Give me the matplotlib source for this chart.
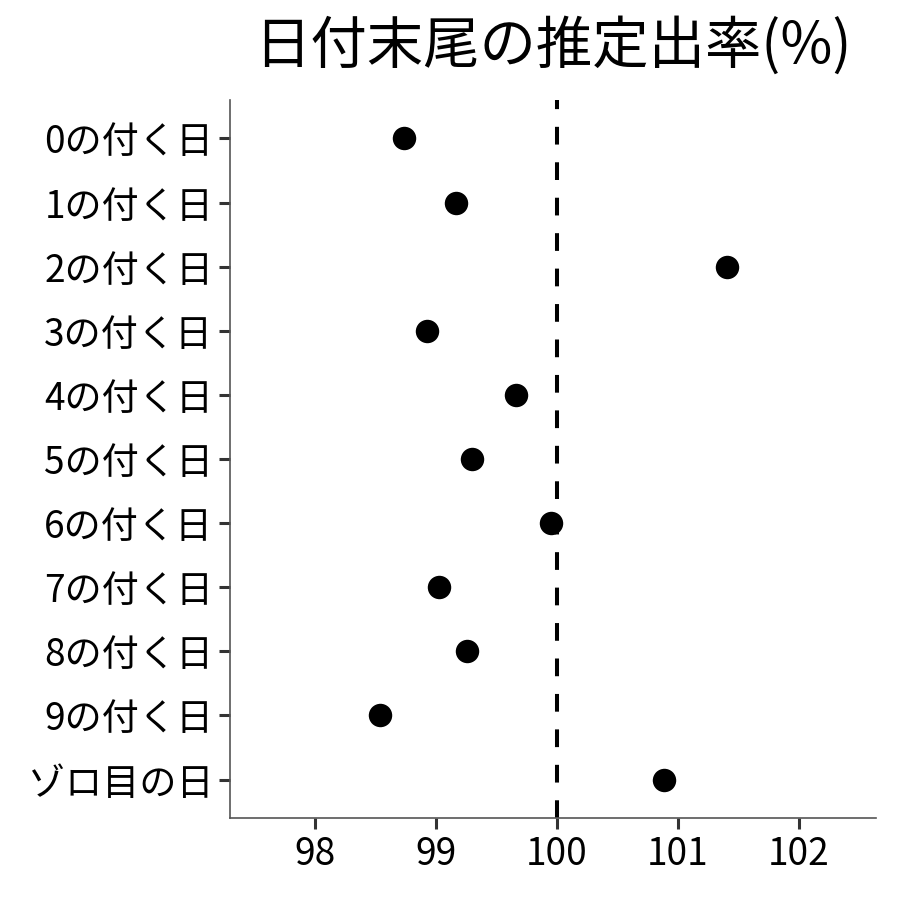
import matplotlib
matplotlib.use("Agg")
import matplotlib.pyplot as plt

plt.rcParams['font.family'] = ['Noto Sans CJK JP', 'DejaVu Sans']

# =========================
# Data
# =========================
CATEGORIES = ["0の付く日", "1の付く日", "2の付く日", "3の付く日", "4の付く日",
              "5の付く日", "6の付く日", "7の付く日", "8の付く日", "9の付く日",
              "ゾロ目の日"]
RATES = [98.74, 99.17, 101.41, 98.93, 99.66, 99.30, 99.95, 99.03, 99.26, 98.54, 100.89]
REFERENCE = 100
XTICKS = [98, 99, 100, 101, 102]
TITLE = "日付末尾の推定出率(%)"


def main():
    fig = plt.figure(figsize=(9, 9), dpi=100)
    ax = fig.add_axes([0.2556, 0.0911, 0.7177, 0.7978])

    ypos = list(range(len(CATEGORIES)))
    ax.axvline(REFERENCE, color="black", lw=2.9, linestyle=(0, (4.4, 4.4)), zorder=1)
    ax.scatter(RATES, ypos, s=285, color="black", zorder=3, linewidths=0)

    ax.set_yticks(ypos)
    ax.set_yticklabels(CATEGORIES)
    ax.set_ylim(len(CATEGORIES) - 1 + 0.6, -0.6)
    ax.set_xticks(XTICKS)
    ax.set_xticklabels([str(t) for t in XTICKS])
    ax.set_xlim(97.30, 102.64)

    for side in ["top", "right"]:
        ax.spines[side].set_visible(False)
    for side in ["left", "bottom"]:
        ax.spines[side].set_color("#555555")
        ax.spines[side].set_linewidth(1.2)

    ax.tick_params(axis="both", length=8, width=2.2, color="#333333",
                   labelsize=26.7, labelcolor="black", pad=4)

    fig.text(0.6144, 0.948, TITLE, ha="center", va="center", fontsize=40.6)

    fig.savefig("out.png", dpi=100, facecolor="white")
    plt.close(fig)


if __name__ == "__main__":
    main()
